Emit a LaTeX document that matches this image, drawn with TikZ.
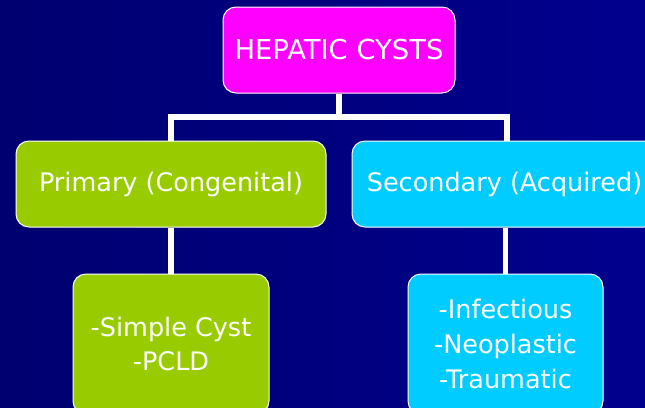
\documentclass[tikz,border=0pt]{standalone}
\usepackage{fontspec}
\setmainfont{DejaVu Sans}
\definecolor{bgl}{RGB}{0,0,112}
\definecolor{bgr}{RGB}{0,0,142}
\definecolor{boxmag}{RGB}{255,0,255}
\definecolor{boxgreen}{RGB}{153,204,0}
\definecolor{boxcyan}{RGB}{0,204,255}
\tikzset{
  cbox/.style={draw=white, line width=1pt, rounded corners=13pt, text=white, align=center, inner sep=0pt},
  conn/.style={draw=white, line width=5.5pt},
}
\begin{document}
\begin{tikzpicture}[x=1pt,y=-1pt]
\useasboundingbox (0,0) rectangle (645,407);
\clip (0,0) rectangle (645,407);
\shade[left color=bgl, right color=bgr] (0,0) rectangle (645,407);
% boxes (positions in pixel coordinates, y downward)
\node[cbox, fill=boxmag, minimum width=232pt, minimum height=86pt, font=\fontsize{27.4}{32}\selectfont] (top) at (339,50) {HEPATIC CYSTS};
\node[cbox, fill=boxgreen, minimum width=310pt, minimum height=86pt, font=\fontsize{25.5}{30}\selectfont] (prim) at (171,184) {Primary (Congenital)};
\node[cbox, fill=boxcyan, minimum width=305pt, minimum height=86pt, font=\fontsize{25.5}{30}\selectfont] (sec) at (504.5,184) {Secondary (Acquired)};
\node[cbox, fill=boxgreen, minimum width=196pt, minimum height=140pt, font=\fontsize{25.5}{34.5}\selectfont] (simp) at (171,344) {-Simple Cyst\\-PCLD};
\node[cbox, fill=boxcyan, minimum width=195pt, minimum height=140pt, font=\fontsize{25.5}{35}\selectfont] (acq) at (505.5,344) {-Infectious\\-Neoplastic\\-Traumatic};
% connectors
\coordinate (jc) at (339,117);
\coordinate (jl) at (171,117);
\coordinate (jr) at (507,117);
\draw[conn] (top.south) -- (jc);
\draw[conn, line cap=rect] (jl) -- (jr);
\draw[conn] (jl) -- (prim.north -| jl);
\draw[conn] (jr) -- (sec.north -| jr);
\draw[conn] (prim.south) -- (simp.north);
\draw[conn] (sec.south -| acq.north) -- (acq.north);
\end{tikzpicture}
\end{document}
